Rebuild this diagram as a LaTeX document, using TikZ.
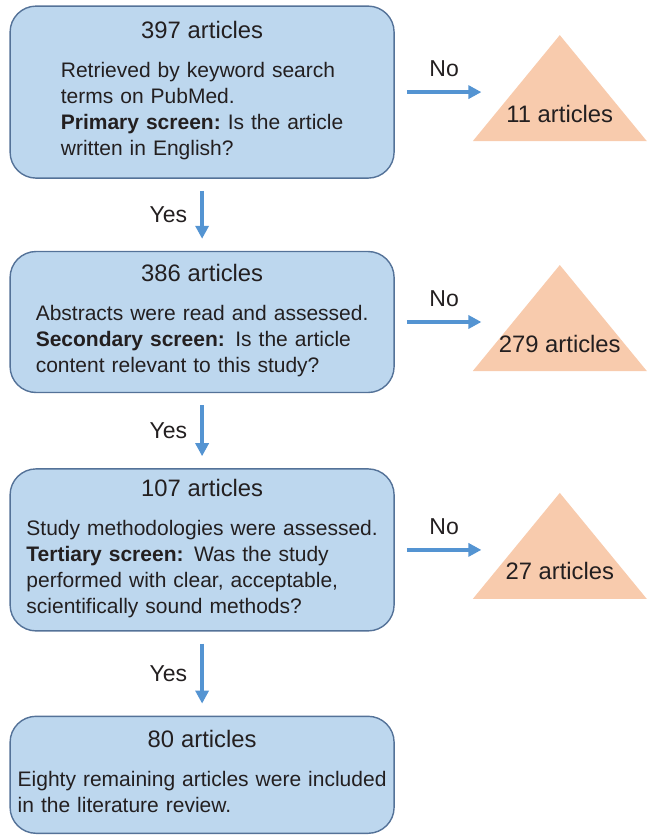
\documentclass[tikz,border=0pt]{standalone}
\usepackage{fontspec}
\setmainfont{Liberation Sans}
\usepackage{tikz}
\usetikzlibrary{
  arrows.meta,
  chains,
  matrix,
  positioning,
  scopes,
  backgrounds
}
\definecolor{boxfill}{RGB}{189,215,238}
\definecolor{boxline}{RGB}{84,114,152}
\definecolor{rejectfill}{RGB}{248,203,173}
\definecolor{arrowblue}{RGB}{84,148,210}
\definecolor{textgray}{RGB}{35,31,32}
\newcommand{\screenhead}[1]{{\fontsize{11.9}{14}\selectfont #1 articles}\\[6.5pt]}
\frenchspacing

\begin{document}
\begin{tikzpicture}[
      screen/.style={
         rectangle,
         anchor=center,
         rounded corners=13pt,
         draw=boxline,
         line width=0.7pt,
         fill=boxfill,
         text width=186pt,
         inner xsep=3pt,
         inner ysep=0pt,
         align=center,
         text=textgray,
         font=\fontsize{10.5}{13}\selectfont
      },
      reject/.style={
         rectangle,
         anchor=center,
         minimum width=66pt,
         inner sep=0pt,
         text height=30pt,
         text depth=0pt,
         text=textgray,
         font=\fontsize{11.9}{14}\selectfont
      },
      answer/.style={text=textgray,font=\fontsize{11.5}{14}\selectfont},
      >={Triangle[length=6.5pt,width=6.5pt]},
      tip/.style={->,draw=arrowblue,line width=2pt,shorten <=6pt,shorten >=6pt}
    ]
    \useasboundingbox (0,0) rectangle (324pt,-420pt);
    \matrix (m) [anchor=north west, column sep=49.5pt, row sep=36pt, inner sep=0pt] at (4.5pt,-2.5pt) {
\node (b1) [screen, minimum height=86pt] {\screenhead{397}
  \begin{tabular}[t]{@{}l@{}}
  Retrieved by keyword search\\
  terms on PubMed.\\
  \textbf{Primary screen:} Is the article\\
  written in English?
  \end{tabular}}; & \node (t1) [reject] {11 articles}; \\
\node (b2) [screen, minimum height=70.5pt] {\screenhead{386}
  \begin{tabular}[t]{@{}l@{}}
  Abstracts were read and assessed.\\
  \textbf{Secondary screen:}\enspace Is the article\\
  content relevant to this study?
  \end{tabular}}; & \node (t2) [reject] {279 articles}; \\[1.5pt]
\node (b3) [screen, minimum height=81pt] {\screenhead{107}
  \begin{tabular}[t]{@{}l@{}}
  Study methodologies were assessed.\\
  \textbf{Tertiary screen:}\enspace Was the study\\
  performed with clear, acceptable,\\
  scientifically sound methods?
  \end{tabular}}; & \node (t3) [reject] {27 articles}; \\[6pt]
\node (b4) [screen, minimum height=58.5pt] {\screenhead{80}
  \begin{tabular}[t]{@{}l@{}}
  Eighty remaining articles were included\\
  in the literature review.
  \end{tabular}}; & \\
    };
  { [start chain]
       \chainin (b1);
       \chainin (b2)    [join=by tip];
  }
  { [start chain]
       \chainin (b2);
       \chainin (b3)    [join=by tip];
  }
  { [start chain]
       \chainin (b3);
       \chainin (b4)    [join=by tip];
  }
  { [start chain]
       \chainin (b1);
       \chainin (t1)    [join=by tip];
  }
  { [start chain]
       \chainin (b2);
       \chainin (t2)    [join=by tip];
  }
  { [start chain]
       \chainin (b3);
       \chainin (t3)    [join=by tip];
  }
  % answer labels
  \path (b1.south) -- node (yes1) [answer, left=4pt] {Yes} (b2.north);
  \path (b2.south) -- node (yes2) [answer, left=4pt] {Yes} (b3.north);
  \path (b3.south) -- node (yes3) [answer, left=4pt] {Yes} (b4.north);
  \path (b1.east) -- node (no1) [answer, above=4pt] {No} (t1.west);
  \path (b2.east) -- node (no2) [answer, above=4pt] {No} (t2.west);
  \path (b3.east) -- node (no3) [answer, above=4pt] {No} (t3.west);
  \begin{scope}[on background layer]
    \foreach \tri in {t1,t2,t3}
      \fill[rejectfill] ([yshift=28.5pt]\tri.center) -- ([xshift=-43.5pt,yshift=-24.5pt]\tri.center)
        -- ([xshift=43.5pt,yshift=-24.5pt]\tri.center) -- cycle;
  \end{scope}
\end{tikzpicture}
\end{document}
